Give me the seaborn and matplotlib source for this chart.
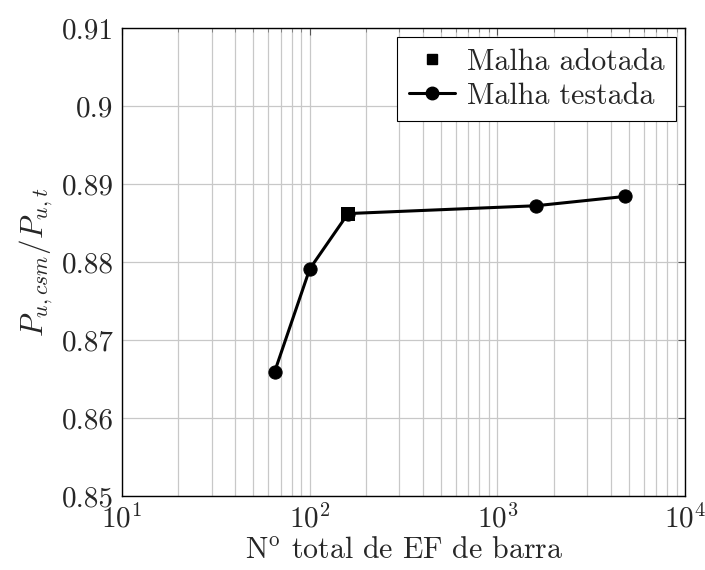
import matplotlib
matplotlib.use("Agg")
import matplotlib.pyplot as plt
import seaborn as sns
import pandas as pd
from matplotlib.ticker import LogLocator, FixedLocator, NullFormatter
from matplotlib.lines import Line2D

# Mesh convergence study: number of beam finite elements vs. strength ratio
n_elements = [65, 100, 160, 1600, 4800]
ratio = [0.8659, 0.8791, 0.8862, 0.8872, 0.8884]

adopted_n = [160]
adopted_ratio = [0.8862]

y_ticks = [0.85, 0.86, 0.87, 0.88, 0.89, 0.90, 0.91]
y_tick_labels = ["0.85", "0.86", "0.87", "0.88", "0.89", "0.9", "0.91"]

tested = pd.DataFrame({"n": n_elements, "r": ratio})
adopted = pd.DataFrame({"n": adopted_n, "r": adopted_ratio})

sns.set_theme(style="white")
plt.rcParams["font.family"] = ["cmr10", "DejaVu Serif"]
plt.rcParams["mathtext.fontset"] = "cm"
plt.rcParams["axes.formatter.use_mathtext"] = True

fs_tick = 21
fs_label = 21.5
fs_leg = 21.6
fig = plt.figure(figsize=(7.05, 5.70), dpi=100)
ax = fig.add_axes([0.173, 0.130, 0.799, 0.821])

sns.lineplot(data=tested, x="n", y="r", ax=ax, color="black", linewidth=2.2,
             marker="o", markersize=9.5, markeredgecolor="black",
             markerfacecolor="black", sort=True, zorder=3)
sns.scatterplot(data=adopted, x="n", y="r", ax=ax, color="black", marker="s",
                s=95, edgecolor="black", linewidth=0, zorder=4)

ax.set_xscale("log")
ax.set_xlim(10, 1e4)
ax.set_ylim(0.85, 0.91)
ax.xaxis.set_major_locator(LogLocator(base=10, numticks=10))
ax.xaxis.set_minor_locator(LogLocator(base=10, subs=range(2, 10), numticks=100))
ax.xaxis.set_minor_formatter(NullFormatter())
ax.yaxis.set_major_locator(FixedLocator(y_ticks))
ax.set_yticklabels(y_tick_labels)

ax.grid(True, which="major", axis="both", color="#c8c8c8", linewidth=0.9)
ax.grid(True, which="minor", axis="x", color="#c8c8c8", linewidth=0.9)
ax.set_axisbelow(True)

ax.tick_params(axis="both", which="major", direction="in", length=5, width=0.8,
               color="#555555", labelsize=fs_tick, pad=6, top=True, right=True)
ax.tick_params(axis="x", which="minor", direction="in", length=3, width=0.6,
               color="#777777", top=True)
for sp in ax.spines.values():
    sp.set_color("black")
    sp.set_linewidth(1.0)

ax.set_xlabel(r"N$^{\rm o}$ total de EF de barra", fontsize=fs_label, labelpad=2)
ax.set_ylabel(r"$P_{u,csm}/P_{u,t}$", fontsize=fs_label + 0.8, labelpad=5)

handles = [
    Line2D([], [], color="black", linestyle="none", marker="s", markersize=7.5),
    Line2D([], [], color="black", linewidth=2.2, marker="o", markersize=9),
]
leg = ax.legend(handles, ["Malha adotada", "Malha testada"], loc="upper right",
                fontsize=fs_leg, frameon=True, fancybox=False, framealpha=1,
                edgecolor="black", borderpad=0.38, handlelength=1.55,
                handletextpad=0.4, labelspacing=0.22, borderaxespad=0.3)
leg.get_frame().set_linewidth(0.8)

fig.savefig("out.png", dpi=100)
